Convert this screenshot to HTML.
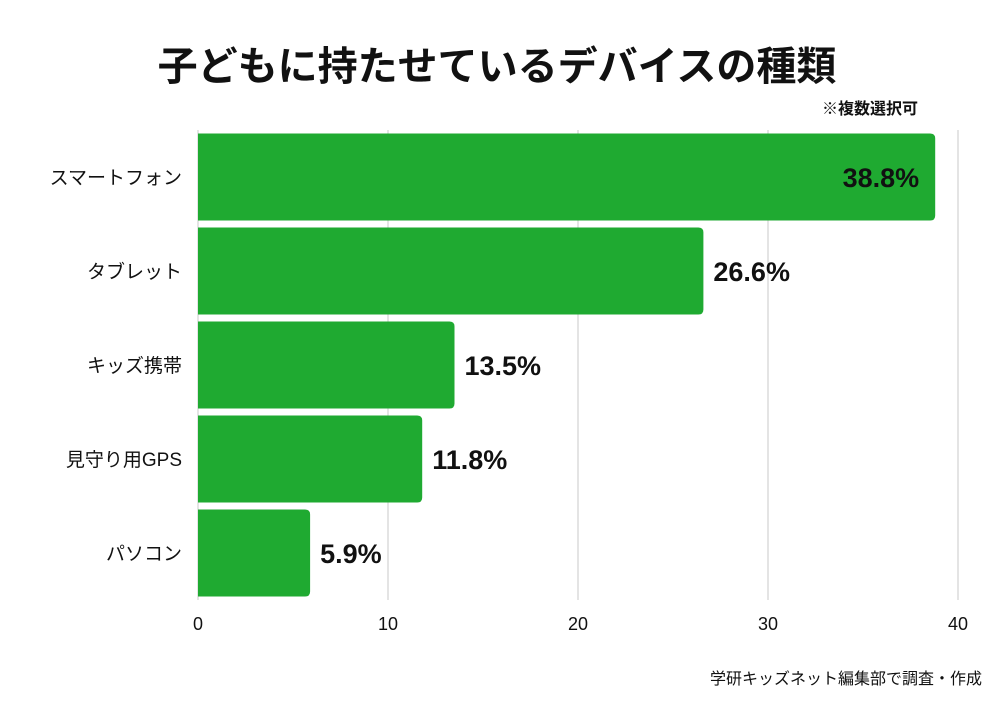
<!DOCTYPE html>
<html><head><meta charset="utf-8"><style>
body{margin:0;background:#fff;width:1000px;height:700px;overflow:hidden;font-family:"Liberation Sans","Noto Sans CJK JP",sans-serif}
</style></head><body>
<svg width="1000" height="700" id="c" font-family="Liberation Sans, Noto Sans CJK JP, sans-serif">
<text x="497" y="80" text-anchor="middle" font-size="40" font-weight="bold" fill="#111">子どもに持たせているデバイスの種類</text>
<text x="918" y="114" text-anchor="end" font-size="16" font-weight="bold" fill="#111">※複数選択可</text>
<text x="982" y="684" text-anchor="end" font-size="16" fill="#111">学研キッズネット編集部で調査・作成</text>
<g id="grid"></g><g id="bars"></g><g id="labels"></g>
</svg>
<script>
const categories=["スマートフォン","タブレット","キッズ携帯","見守り用GPS","パソコン"];
const values=[38.8,26.6,13.5,11.8,5.9];
const ticks=[0,10,20,30,40];
const ns="http://www.w3.org/2000/svg";
const x0=198,x1=958,top0=130,bottom=600,band=(bottom-top0)/categories.length,bh=87;
const xs=v=>x0+(x1-x0)*v/40;
function mk(t,a,p){const e=document.createElementNS(ns,t);for(const k in a)e.setAttribute(k,a[k]);p.appendChild(e);return e;}
const g=document.getElementById('grid'),b=document.getElementById('bars'),l=document.getElementById('labels');
ticks.forEach(t=>{
 const ln=mk('line',{x1:xs(t),x2:xs(t),y1:top0,y2:bottom,stroke:'#c8c8c8','stroke-width':1},g);
 
 
 const tx=mk('text',{x:xs(t),y:630,'text-anchor':'middle','font-size':18,fill:'#111'},g);
 tx.textContent=t;
 
 
});
categories.forEach((c,i)=>{
 const y=top0+i*band+(band-bh)/2, w=xs(values[i])-x0, r=5;
 const p=mk('path',{d:`M${x0},${y}H${x0+w-r}Q${x0+w},${y} ${x0+w},${y+r}V${y+bh-r}Q${x0+w},${y+bh} ${x0+w-r},${y+bh}H${x0}Z`,fill:'#1faa31'},b);
 
 
 const cl=mk('text',{x:182,y:y+bh/2+7,'text-anchor':'end','font-size':19,fill:'#111'},l);
 cl.textContent=c;
 
 
 const inside=values[i]>35;
 const vl=mk('text',{x:inside?xs(values[i])-16:xs(values[i])+10,y:y+bh/2+10,'text-anchor':inside?'end':'start','font-size':27,'font-weight':'bold',fill:'#111'},l);
 vl.textContent=values[i].toFixed(1)+'%';
 
 
});
</script>
</body></html>
